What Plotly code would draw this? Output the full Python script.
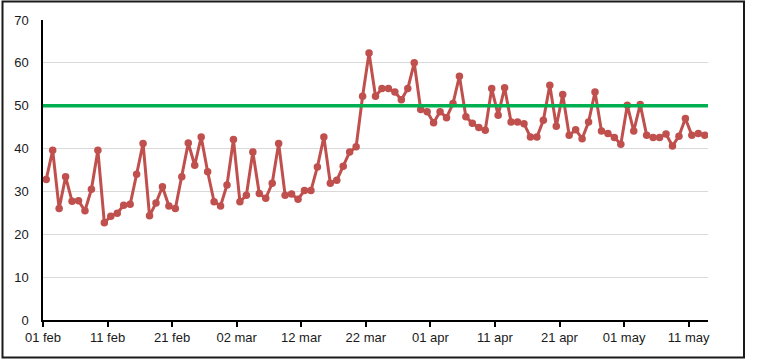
import pandas as pd
import plotly.graph_objects as go

# Daily values, 01 feb 2020 .. 13 may 2020
values = [
    32.8, 39.6, 26.0, 33.4, 27.7, 27.8, 25.5, 30.5, 39.6, 22.7,
    24.2, 24.9, 26.8, 27.0, 34.0, 41.2, 24.3, 27.3, 31.1, 26.6,
    26.0, 33.4, 41.3, 36.1, 42.7, 34.6, 27.6, 26.6, 31.5, 42.1,
    27.6, 29.1, 39.2, 29.5, 28.4, 31.9, 41.2, 29.1, 29.4, 28.2,
    30.2, 30.2, 35.7, 42.7, 31.9, 32.6, 35.9, 39.2, 40.4, 52.2,
    62.3, 52.2, 54.0, 54.0, 53.2, 51.4, 54.0, 60.0, 49.1, 48.6,
    46.0, 48.6, 47.2, 50.5, 56.9, 47.4, 45.9, 44.9, 44.3, 54.0,
    47.8, 54.2, 46.2, 46.2, 45.8, 42.7, 42.7, 46.6, 54.8, 45.2,
    52.6, 43.1, 44.4, 42.3, 46.2, 53.2, 44.1, 43.5, 42.6, 41.0,
    50.1, 44.1, 50.3, 43.1, 42.6, 42.6, 43.4, 40.6, 42.9, 47.0,
    43.1, 43.5, 43.1,
]
threshold = 50
start_date = "2020-02-01"
tick_dates = ["2020-02-01", "2020-02-11", "2020-02-21", "2020-03-02", "2020-03-12",
              "2020-03-22", "2020-04-01", "2020-04-11", "2020-04-21", "2020-05-01",
              "2020-05-11"]
tick_labels = ["01 feb", "11 feb", "21 feb", "02 mar", "12 mar", "22 mar",
               "01 apr", "11 apr", "21 apr", "01 may", "11 may"]

# points sit in the middle of each day (Excel "between tick marks")
dates = pd.date_range(pd.Timestamp(start_date) + pd.Timedelta(hours=12),
                      periods=len(values), freq="D")
x_start = pd.Timestamp(start_date)
x_end = pd.Timestamp(start_date) + pd.Timedelta(days=len(values))

fig = go.Figure()
fig.add_shape(type="line", xref="x", yref="y",
              x0=x_start, x1=x_end, y0=threshold, y1=threshold,
              line=dict(color="#00b050", width=3.5), layer="above")
fig.add_trace(go.Scatter(
    x=dates, y=values, mode="lines+markers",
    line=dict(color="#c0504d", width=3),
    marker=dict(color="#c0504d", size=7.5),
    showlegend=False, hoverinfo="x+y"))

W, H = 758, 364
ml, mr, mt, mb = 43, 50, 20, 44
pw, ph = W - ml - mr, H - mt - mb
bx0, bx1, by0, by1 = 2.5, 744, 1.5, 357.5
fig.add_shape(type="rect", xref="paper", yref="paper",
              x0=(bx0 - ml) / pw, x1=(bx1 - ml) / pw,
              y0=(H - mb - by1) / ph, y1=(H - mb - by0) / ph,
              line=dict(color="#1a1a1a", width=2), fillcolor="rgba(0,0,0,0)")

fig.update_layout(
    width=W, height=H,
    margin=dict(l=ml, r=mr, t=mt, b=mb, pad=0),
    paper_bgcolor="white", plot_bgcolor="white",
    font=dict(family="Liberation Sans, Arial, sans-serif", size=13, color="#1a1a1a"),
)
fig.update_xaxes(
    type="date", range=[x_start, x_end],
    tickmode="array", tickvals=tick_dates, ticktext=tick_labels,
    showgrid=False, showline=True, linecolor="#000000", linewidth=1.5,
    ticks="outside", ticklen=5, tickcolor="#000000", tickwidth=1.5,
    zeroline=False, tickangle=0,
)
fig.update_yaxes(
    range=[0, 70], dtick=10, tick0=0,
    showgrid=True, gridcolor="#d9d9d9", gridwidth=1,
    showline=True, linecolor="#000000", linewidth=1.5,
    ticks="", zeroline=False, ticklabelstandoff=10,
)

fig.write_html("out.html")
